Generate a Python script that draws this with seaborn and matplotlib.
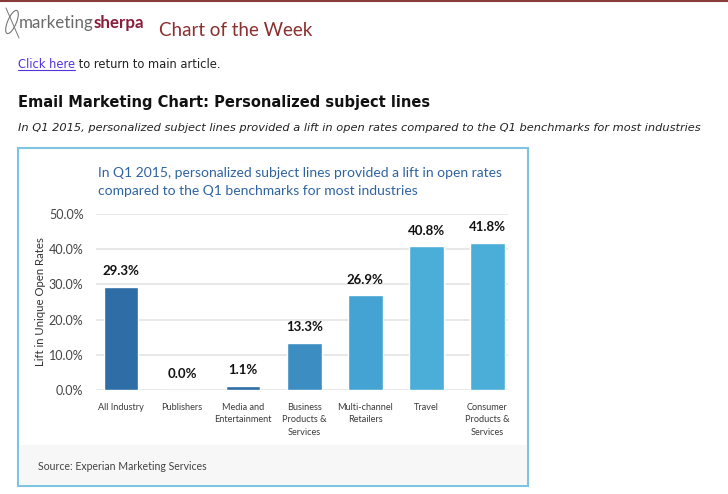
import matplotlib
matplotlib.use("Agg")
import matplotlib.pyplot as plt
import seaborn as sns
import pandas as pd
from matplotlib.patches import Rectangle, Ellipse
from matplotlib.lines import Line2D

# Chart data
categories = ["All Industry", "Publishers", "Media and\nEntertainment",
              "Business\nProducts &\nServices", "Multi-channel\nRetailers",
              "Travel", "Consumer\nProducts &\nServices"]
lift = [29.3, 0.0, 1.1, 13.3, 26.9, 40.8, 41.8]
bar_colors = ["#2e6da6", "#3172aa", "#2e6da6", "#3b8dc2", "#44a3d2", "#4aaed9", "#4aaed9"]
yticks = [0, 10, 20, 30, 40, 50]

W, H = 728, 494

def fx(x):
    return x / W

def fy(y):
    return 1 - y / H

sns.set_theme(style="white")
plt.rcParams["font.family"] = ["DejaVu Sans"]

fig = plt.figure(figsize=(W / 100, H / 100), dpi=100)
fig.patch.set_facecolor("white")

# Page header
fig.add_artist(Line2D([0, 1], [fy(1), fy(1)], color="#8b3a3a", lw=1.5))
fig.add_artist(Ellipse((fx(12), fy(22)), 9 / W, 24 / H, angle=-15, fill=False,
                       edgecolor="#777777", lw=0.8))
fig.add_artist(Line2D([fx(6), fx(19)], [fy(8), fy(38)], color="#777777", lw=0.7))
t = fig.text(fx(19), fy(23), "marketing", fontsize=12.2, color="#6a6a6a",
             family="Lato", va="center")
fig.canvas.draw()
bb = t.get_window_extent()
fig.text(bb.x1 / W, fy(23), "sherpa", fontsize=12.2, color="#8a1c3c",
         family="Lato", fontweight="bold", va="center")
fig.text(fx(159), fy(30), "Chart of the Week", fontsize=13.5, color="#8b2f2f",
         family="Lato", va="center")

link = fig.text(fx(18), fy(64), "Click here", fontsize=8.3, color="#5533dd", va="center")
fig.canvas.draw()
lb = link.get_window_extent()
fig.add_artist(Line2D([lb.x0 / W, lb.x1 / W], [fy(70), fy(70)], color="#5533dd", lw=0.8))
fig.text(lb.x1 / W, fy(64), " to return to main article.", fontsize=8.3,
         color="#222222", va="center")

fig.text(fx(18), fy(102), "Email Marketing Chart: Personalized subject lines",
         fontsize=10.5, fontweight="bold", color="#111111", va="center")
fig.text(fx(18), fy(128),
         "In Q1 2015, personalized subject lines provided a lift in open rates "
         "compared to the Q1 benchmarks for most industries",
         fontsize=8.2, style="italic", color="#222222", va="center")

# Chart frame and source band
fig.add_artist(Rectangle((fx(18), fy(486)), (528 - 18) / W, (486 - 148) / H,
                         facecolor="white", edgecolor="#7ec4e2", lw=1.5, zorder=0))
fig.add_artist(Rectangle((fx(19), fy(485)), (527 - 19) / W, (485 - 445) / H,
                         facecolor="#f7f7f7", edgecolor="none", zorder=0.5))
fig.text(fx(98), fy(182),
         "In Q1 2015, personalized subject lines provided a lift in open rates\n"
         "compared to the Q1 benchmarks for most industries",
         fontsize=10, color="#2f63a0", family="Lato", va="center", linespacing=1.6)
fig.text(fx(38), fy(466), "Source: Experian Marketing Services", fontsize=7.6,
         color="#444444", family="Lato", va="center")

# Bar chart
ax = fig.add_axes([fx(96), fy(390), (508 - 96) / W, (390 - 214) / H])
ax.patch.set_alpha(0)
df = pd.DataFrame({"category": categories, "lift": lift})
sns.barplot(data=df, x="category", y="lift", hue="category", palette=bar_colors,
            width=0.57, saturation=1, legend=False, ax=ax, zorder=3)
for i, v in enumerate(lift):
    ax.annotate(f"{v:.1f}%", (i, v), xytext=(0, 7), textcoords="offset points",
                ha="center", va="bottom", fontsize=9.5, fontweight="bold",
                family="Lato", color="#111111")
ax.set_ylim(0, 50)
ax.set_xlim(-0.41, 6.34)
ax.set_yticks(yticks)
ax.set_yticklabels([f"{v:.1f}%" for v in yticks], family="Lato", fontsize=9,
                   color="#444444")
ax.set_xticks(range(len(categories)))
ax.set_xticklabels(categories, family="Lato", fontsize=6.6, color="#3a3a3a",
                   linespacing=1.5, va="top")
ax.tick_params(axis="y", length=0, pad=9)
ax.tick_params(axis="x", length=0, pad=9)
ax.grid(axis="y", color="#e4e4e4", lw=1.2, zorder=0)
ax.set_axisbelow(True)
for s in ax.spines.values():
    s.set_visible(False)
ax.set_xlabel("")
ax.set_ylabel("Lift in Unique Open Rates", family="Lato", fontsize=8.2,
              color="#333333", labelpad=2)

fig.savefig("out.png", dpi=100)
